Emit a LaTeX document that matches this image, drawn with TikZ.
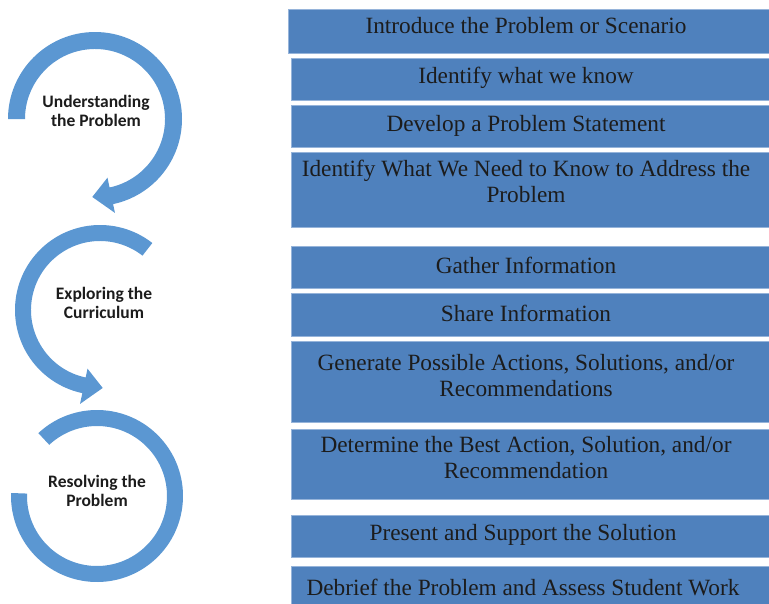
\documentclass[tikz,border=0pt]{standalone}
\usepackage{fontspec}
\setmainfont{Liberation Serif}
\newfontfamily\phasefont{Carlito}

\definecolor{stepblue}{RGB}{79,129,189}
\definecolor{stepedge}{RGB}{150,180,218}
\definecolor{ringblue}{RGB}{91,151,210}
\definecolor{inkgray}{RGB}{28,28,28}

\begin{document}
\begin{tikzpicture}[x=1pt,y=1pt]
 \tikzstyle{stepbox} = [draw=stepedge,fill=stepblue,line width=1.2pt,anchor=north west,minimum width=490pt,inner sep=0pt]
 \tikzstyle{steptext} = [anchor=base,align=center,text=inkgray,inner sep=0pt,font=\fontsize{23.3}{25.5}\selectfont]
 \tikzstyle{phase} = [align=center,text=inkgray,inner sep=0pt,font=\phasefont\bfseries\fontsize{17.5}{19}\selectfont]
 \tikzstyle{ring} = [fill=ringblue]
 \useasboundingbox (0,0) rectangle (769,-603);
 \clip (0,0) rectangle (769,-603);

 % the three phases as circular arrows
 \coordinate (C1) at (95,-119);
 \coordinate (C2) at (100,-310);
 \coordinate (C3) at (97,-496);
 \fill[ring] ([shift={(180:87)}]C1) arc[start angle=180,end angle=-78,radius=87]
  -- ([shift={(-78:96)}]C1) -- ([shift={(-92:78)}]C1) -- ([shift={(-78:60)}]C1)
  -- ([shift={(-78:70)}]C1) arc[start angle=-78,end angle=180,radius=70] -- cycle;
 \fill[ring] ([shift={(52:85)}]C2) arc[start angle=52,end angle=258,radius=85]
  -- ([shift={(258:96)}]C2) -- ([shift={(272:78)}]C2) -- ([shift={(258:60)}]C2)
  -- ([shift={(258:69)}]C2) arc[start angle=258,end angle=52,radius=69] -- cycle;
 \fill[ring] ([shift={(133:86)}]C3) arc[start angle=133,end angle=-182,radius=86]
  -- ([shift={(-182:70)}]C3) arc[start angle=-182,end angle=133,radius=70] -- cycle;

 \node[phase] (Understand) at (96,-111) {Understanding\\the Problem};
 \node[phase] (Explore) at (104,-303) {Exploring the\\Curriculum};
 \node[phase] (Resolve) at (97,-491) {Resolving the\\Problem};

 % steps
 \path
 (288,-9) node[stepbox,minimum height=44] (Intro) {}
 (291,-58) node[stepbox,minimum height=42] (Know) {}
 (291,-105) node[stepbox,minimum height=42] (Statement) {}
 (291,-152) node[stepbox,minimum height=75] (Need) {}
 (291,-246) node[stepbox,minimum height=42] (Gather) {}
 (291,-293) node[stepbox,minimum height=43] (Share) {}
 (291,-341) node[stepbox,minimum height=81] (Generate) {}
 (291,-429) node[stepbox,minimum height=70] (Determine) {}
 (291,-515) node[stepbox,minimum height=42] (Present) {}
 (291,-566) node[stepbox,minimum height=50] (Debrief) {}
 ;
 % base of a two-line text is its last line
 \path
 (526,-33) node[steptext] (IntroTxt) {Introduce the Problem or Scenario}
 (526,-83) node[steptext] (KnowTxt) {Identify what we know}
 (526,-131) node[steptext] (StatementTxt) {Develop a Problem Statement}
 (526,-202) node[steptext] (NeedTxt) {Identify What We Need to Know to Address the\\Problem}
 (526,-273) node[steptext] (GatherTxt) {Gather Information}
 (526,-321) node[steptext] (ShareTxt) {Share Information}
 (526,-396) node[steptext] (GenerateTxt) {Generate Possible Actions, Solutions, and/or\\Recommendations}
 (526,-478) node[steptext] (DetermineTxt) {Determine the Best Action, Solution, and/or\\Recommendation}
 (523,-540) node[steptext] (PresentTxt) {Present and Support the Solution}
 (523,-595) node[steptext] (DebriefTxt) {Debrief the Problem and Assess Student Work}
 ;
\end{tikzpicture}
\end{document}
